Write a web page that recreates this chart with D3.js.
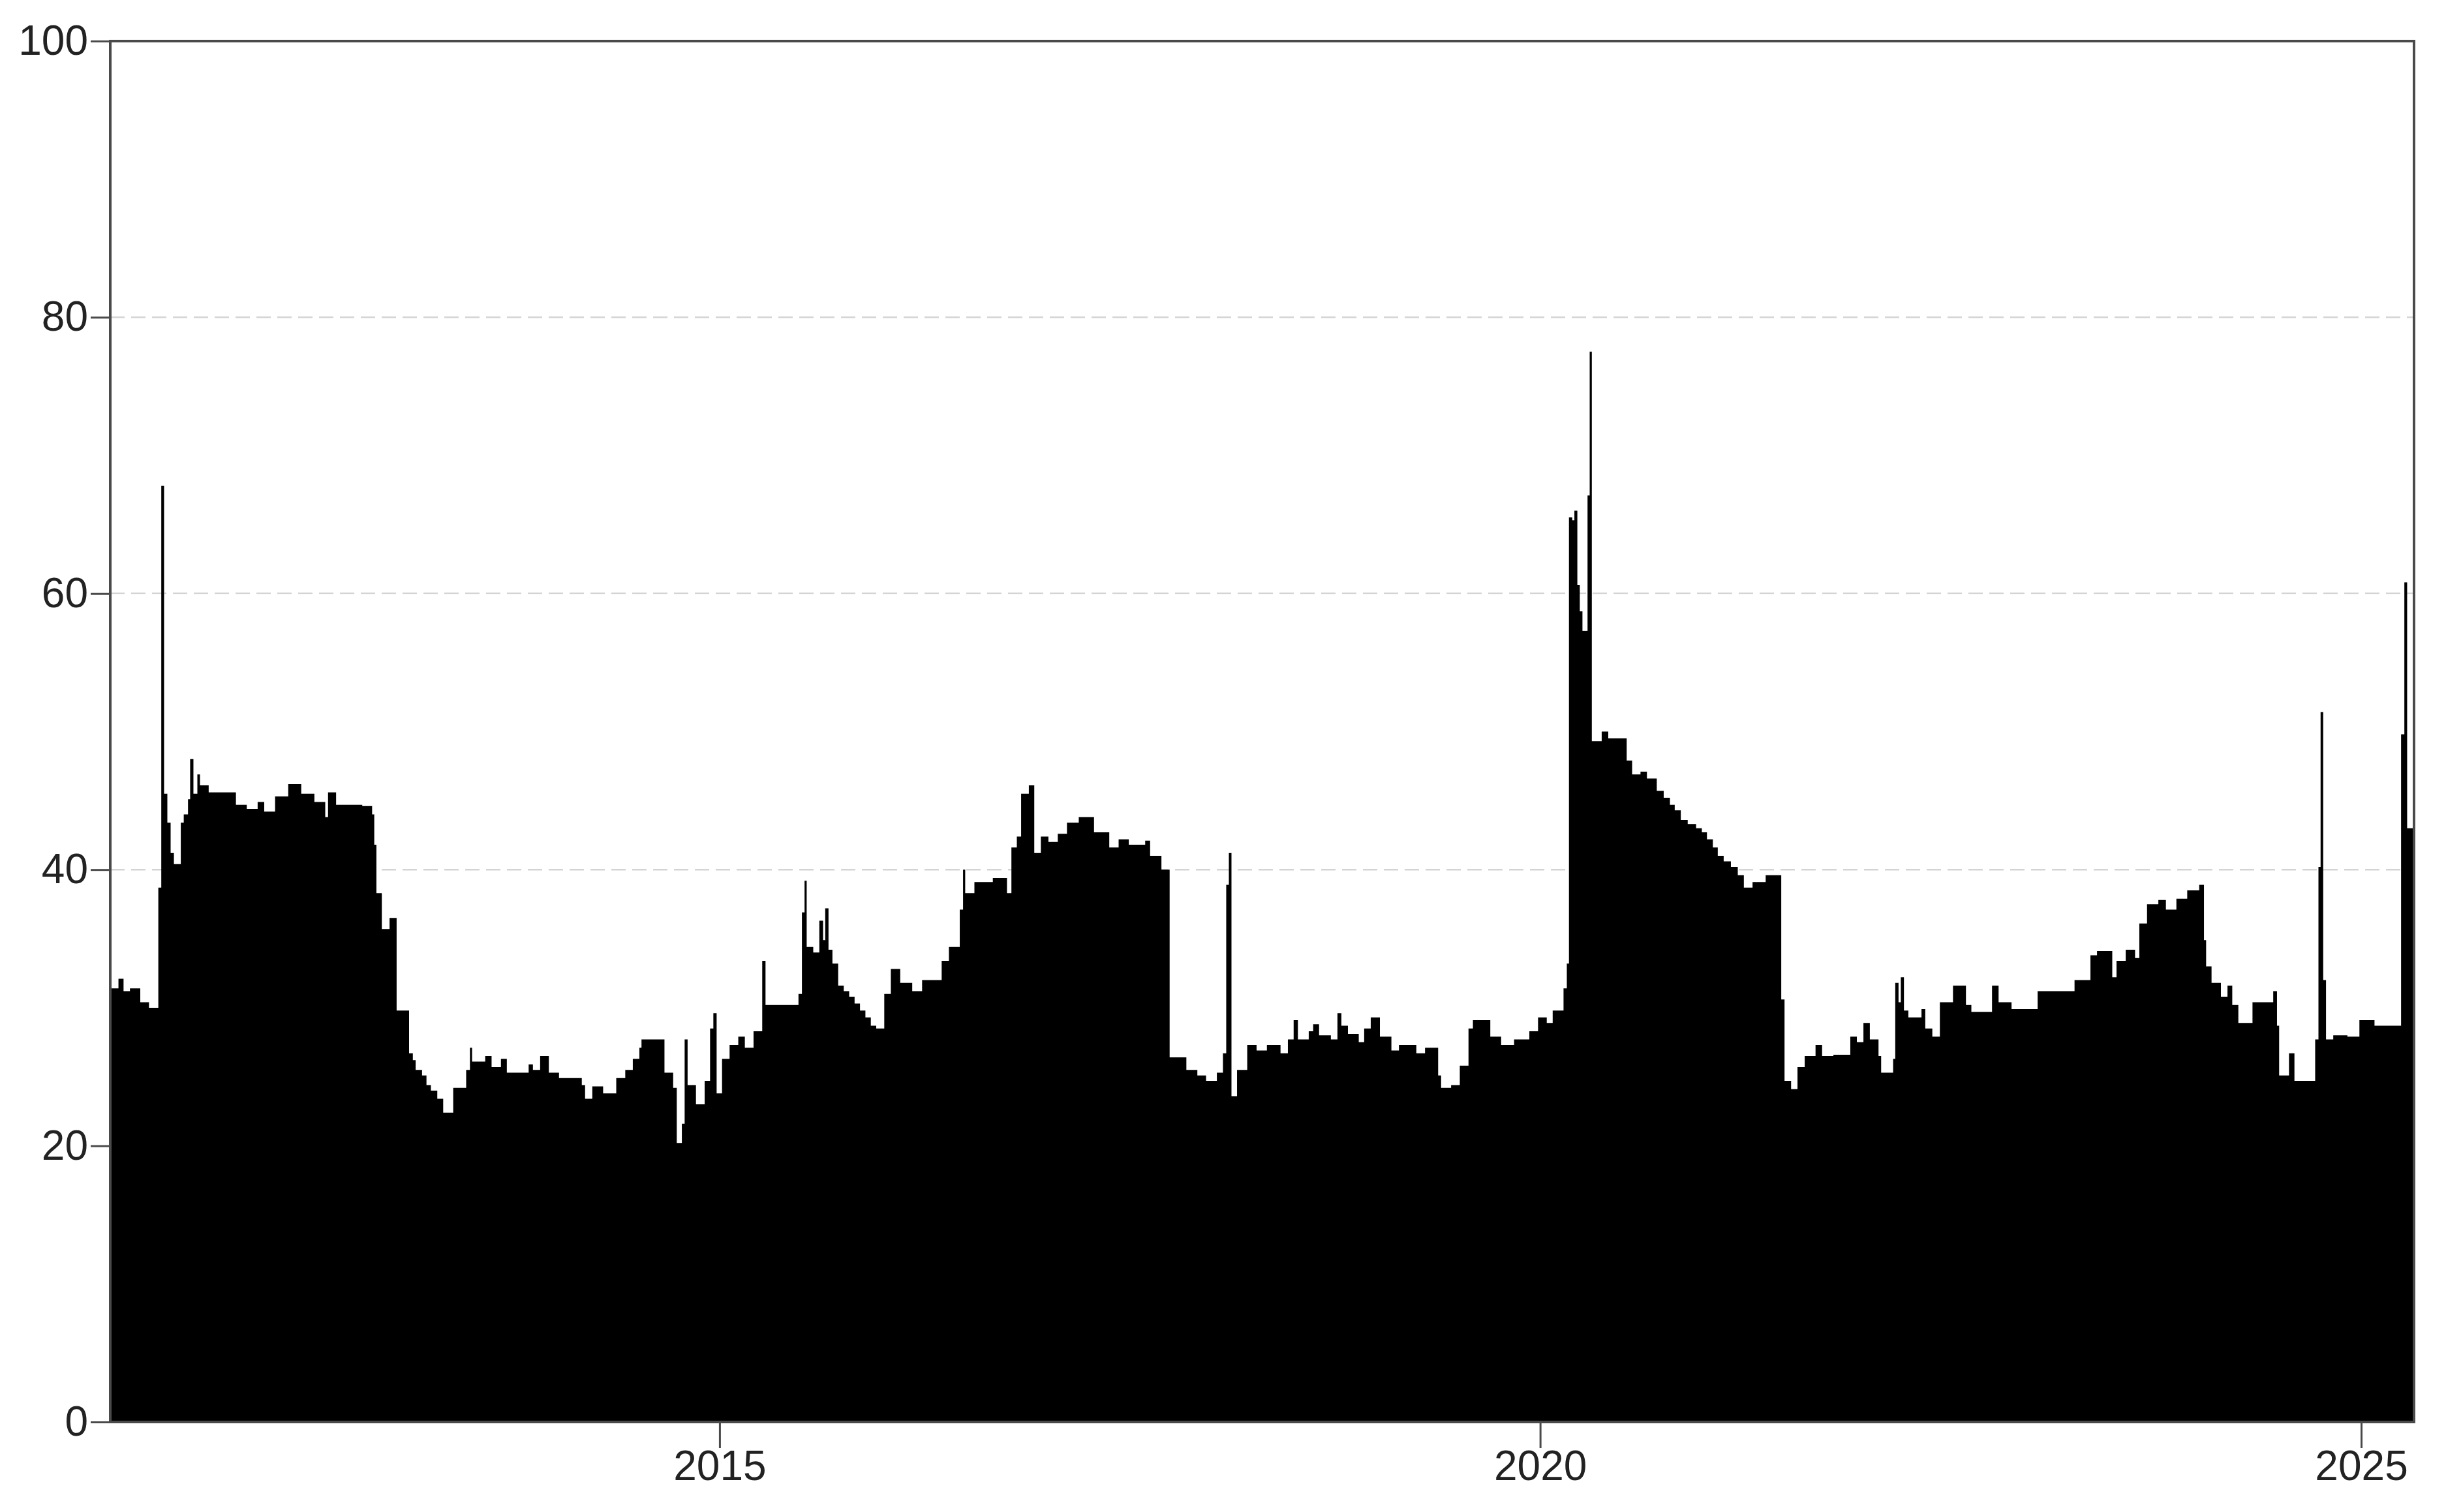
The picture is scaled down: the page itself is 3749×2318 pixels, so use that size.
<!DOCTYPE html>
<html>
<head>
<meta charset="utf-8">
<script src="https://cdn.jsdelivr.net/npm/d3@7"></script>
<style>
  html, body { margin: 0; padding: 0; background: #ffffff; }
  svg { display: block; }
  text { font-family: "Liberation Sans", Arial, sans-serif; }
</style>
</head>
<body>
<svg id="chart" width="3749" height="2318"></svg>
<script>
// ---- data (time as decimal year, value) ----
const times = [
  2011.290, 2011.338, 2011.369, 2011.408, 2011.471, 2011.524, 2011.581, 2011.599, 2011.616, 2011.636,
  2011.656, 2011.676, 2011.718, 2011.736, 2011.762, 2011.775, 2011.795, 2011.819, 2011.835, 2011.888,
  2012.054, 2012.120, 2012.186, 2012.226, 2012.292, 2012.372, 2012.451, 2012.531, 2012.597, 2012.614,
  2012.663, 2012.822, 2012.882, 2012.895, 2012.908, 2012.941, 2012.988, 2013.031, 2013.107, 2013.130,
  2013.147, 2013.186, 2013.213, 2013.240, 2013.279, 2013.315, 2013.376, 2013.455, 2013.478, 2013.491,
  2013.571, 2013.610, 2013.667, 2013.703, 2013.836, 2013.862, 2013.906, 2013.959, 2014.021, 2014.160,
  2014.180, 2014.224, 2014.290, 2014.370, 2014.425, 2014.471, 2014.511, 2014.524, 2014.664, 2014.717,
  2014.739, 2014.770, 2014.787, 2014.805, 2014.856, 2014.909, 2014.942, 2014.962, 2014.982, 2015.015,
  2015.061, 2015.114, 2015.154, 2015.207, 2015.260, 2015.280, 2015.481, 2015.502, 2015.518, 2015.531,
  2015.571, 2015.608, 2015.631, 2015.644, 2015.664, 2015.688, 2015.723, 2015.757, 2015.790, 2015.823,
  2015.856, 2015.889, 2015.922, 2015.955, 2016.004, 2016.044, 2016.101, 2016.174, 2016.234, 2016.353,
  2016.397, 2016.463, 2016.483, 2016.496, 2016.552, 2016.664, 2016.750, 2016.777, 2016.810, 2016.836,
  2016.883, 2016.916, 2016.956, 2017.002, 2017.059, 2017.115, 2017.187, 2017.280, 2017.373, 2017.430,
  2017.492, 2017.592, 2017.622, 2017.691, 2017.741, 2017.843, 2017.910, 2017.963, 2018.029, 2018.066,
  2018.086, 2018.102, 2018.118, 2018.152, 2018.214, 2018.271, 2018.334, 2018.417, 2018.462, 2018.497,
  2018.523, 2018.589, 2018.616, 2018.652, 2018.724, 2018.764, 2018.788, 2018.828, 2018.894, 2018.927,
  2018.967, 2019.023, 2019.093, 2019.139, 2019.245, 2019.298, 2019.378, 2019.396, 2019.457, 2019.510,
  2019.563, 2019.590, 2019.696, 2019.762, 2019.841, 2019.934, 2019.987, 2020.040, 2020.076, 2020.142,
  2020.162, 2020.175, 2020.195, 2020.208, 2020.226, 2020.241, 2020.257, 2020.288, 2020.301, 2020.314,
  2020.374, 2020.414, 2020.526, 2020.559, 2020.610, 2020.649, 2020.709, 2020.751, 2020.789, 2020.818,
  2020.855, 2020.897, 2020.948, 2020.983, 2021.014, 2021.050, 2021.080, 2021.116, 2021.160, 2021.202,
  2021.239, 2021.292, 2021.372, 2021.467, 2021.487, 2021.527, 2021.566, 2021.610, 2021.676, 2021.716,
  2021.785, 2021.888, 2021.928, 2021.968, 2022.007, 2022.060, 2022.076, 2022.149, 2022.162, 2022.182,
  2022.196, 2022.215, 2022.242, 2022.322, 2022.345, 2022.388, 2022.434, 2022.514, 2022.593, 2022.626,
  2022.752, 2022.792, 2022.871, 2023.030, 2023.255, 2023.352, 2023.392, 2023.485, 2023.511, 2023.567,
  2023.624, 2023.650, 2023.697, 2023.766, 2023.812, 2023.876, 2023.942, 2024.015, 2024.044, 2024.057,
  2024.090, 2024.147, 2024.187, 2024.216, 2024.253, 2024.339, 2024.465, 2024.488, 2024.501, 2024.561,
  2024.594, 2024.720, 2024.740, 2024.753, 2024.769, 2024.786, 2024.830, 2024.916, 2024.989, 2025.081,
  2025.243, 2025.263, 2025.280, 2025.322
];
const values = [
  31.4, 32.1, 31.2, 31.4, 30.4, 30.0, 38.7, 67.8, 45.5, 43.4,
  41.2, 40.4, 43.4, 44.0, 45.1, 48.0, 45.5, 46.9, 46.1, 45.6,
  44.7, 44.4, 44.9, 44.2, 45.3, 46.2, 45.5, 44.9, 43.8, 45.6,
  44.7, 44.6, 44.0, 41.8, 38.3, 35.7, 36.5, 29.8, 26.7, 26.2,
  25.5, 25.1, 24.4, 24.0, 23.4, 22.4, 24.2, 25.5, 27.1, 26.1,
  26.5, 25.7, 26.3, 25.3, 25.9, 25.5, 26.5, 25.3, 24.9, 24.4,
  23.4, 24.3, 23.8, 24.9, 25.5, 26.3, 27.1, 27.7, 25.3, 24.2,
  20.2, 21.6, 27.7, 24.4, 23.0, 24.7, 28.5, 29.6, 23.8, 26.3,
  27.3, 27.9, 27.1, 28.3, 33.4, 30.2, 31.0, 36.9, 39.2, 34.4,
  34.0, 36.3, 34.9, 37.2, 34.2, 33.2, 31.6, 31.2, 30.8, 30.3,
  29.8, 29.3, 28.7, 28.5, 31.0, 32.8, 31.8, 31.2, 32.0, 33.4,
  34.4, 37.1, 40.0, 38.3, 39.1, 39.4, 38.3, 41.6, 42.4, 45.5,
  46.1, 41.2, 42.4, 42.0, 42.6, 43.4, 43.8, 42.7, 41.6, 42.2,
  41.8, 42.1, 41.0, 40.0, 26.4, 25.5, 25.1, 24.7, 25.3, 26.7,
  38.9, 41.2, 23.6, 25.5, 27.3, 26.9, 27.3, 26.7, 27.7, 29.1,
  27.7, 28.3, 28.8, 28.0, 27.7, 29.6, 28.7, 28.1, 27.5, 28.5,
  29.3, 27.9, 26.9, 27.3, 26.7, 27.1, 25.1, 24.2, 24.4, 25.8,
  28.5, 29.1, 27.9, 27.3, 27.7, 28.3, 29.3, 28.9, 29.8, 31.4,
  33.2, 65.5, 65.3, 66.0, 60.6, 58.7, 57.3, 67.1, 77.5, 49.3,
  50.0, 49.5, 47.9, 46.9, 47.1, 46.6, 45.7, 45.2, 44.7, 44.3,
  43.6, 43.3, 43.0, 42.7, 42.2, 41.6, 41.0, 40.6, 40.2, 39.6,
  38.7, 39.1, 39.6, 30.6, 24.7, 24.1, 25.7, 26.5, 27.3, 26.5,
  26.6, 27.9, 27.5, 28.9, 27.7, 26.5, 25.3, 26.3, 31.8, 30.4,
  32.2, 29.8, 29.3, 29.9, 28.5, 27.9, 30.4, 31.6, 30.2, 29.7,
  31.6, 30.4, 29.9, 31.2, 32.0, 33.8, 34.1, 32.2, 33.4, 34.2,
  33.6, 36.1, 37.5, 37.8, 37.1, 37.9, 38.5, 38.9, 34.9, 33.0,
  31.8, 30.8, 31.6, 30.2, 28.9, 30.4, 31.2, 28.7, 25.1, 26.7,
  24.7, 27.7, 40.2, 51.4, 32.0, 27.7, 28.0, 27.9, 29.1, 28.7,
  49.8, 60.8, 43.0, 43.0
];
const yTicks = [0, 20, 40, 60, 80, 100];
const gridValues = [20, 40, 60, 80];
const xTickYears = [2015, 2020, 2025];
const domainStart = 2011.288, domainEnd = 2025.322;

// ---- helpers ----
function decYearToDate(y) {
  const Y = Math.floor(y);
  const s = Date.UTC(Y, 0, 1), e = Date.UTC(Y + 1, 0, 1);
  return new Date(s + (y - Y) * (e - s));
}
const n = Math.min(times.length, values.length);
const data = d3.range(n).map(i => ({ date: decYearToDate(times[i]), value: values[i] }));

const svg = d3.select("#chart");
const W = 3749, H = 2318;
const margin = { left: 169, right: W - 3700, top: 63, bottom: H - 2180 };

const x = d3.scaleUtc()
  .domain([decYearToDate(domainStart), decYearToDate(domainEnd)])
  .range([margin.left, W - margin.right]);
const y = d3.scaleLinear().domain([0, 100]).range([H - margin.bottom, margin.top]);

// gridlines
svg.append("g").selectAll("line").data(gridValues).join("line")
  .attr("x1", margin.left).attr("x2", W - margin.right)
  .attr("y1", d => y(d)).attr("y2", d => y(d))
  .attr("stroke", "#d4d4d4").attr("stroke-width", 2.5)
  .attr("stroke-dasharray", "22,10");

// clip
svg.append("clipPath").attr("id", "clip").append("rect")
  .attr("x", margin.left).attr("y", margin.top)
  .attr("width", W - margin.left - margin.right)
  .attr("height", H - margin.top - margin.bottom);

const area = d3.area()
  .curve(d3.curveStepAfter)
  .x(d => x(d.date))
  .y0(y(0))
  .y1(d => y(d.value));

svg.append("path")
  .datum(data)
  .attr("clip-path", "url(#clip)")
  .attr("fill", "#000000")
  .attr("d", area);

// axes
const axisColor = "#4a4a4a";
const yAxis = d3.axisLeft(y).tickValues(yTicks).tickSize(30).tickPadding(4).tickFormat(d3.format("d"));
const gy = svg.append("g").attr("transform", `translate(${margin.left},0)`).call(yAxis);
gy.select(".domain").remove();
gy.selectAll(".tick line").attr("stroke", axisColor).attr("stroke-width", 3);
gy.selectAll(".tick text").attr("font-size", 64).attr("fill", "#222")
  .attr("font-family", "'Liberation Sans', Arial, sans-serif");

const xAxis = d3.axisBottom(x)
  .tickValues(xTickYears.map(yv => decYearToDate(yv)))
  .tickSize(40).tickPadding(4)
  .tickFormat(d3.utcFormat("%Y"));
const gx = svg.append("g").attr("transform", `translate(0,${H - margin.bottom})`).call(xAxis);
gx.select(".domain").remove();
gx.selectAll(".tick line").attr("stroke", axisColor).attr("stroke-width", 3);
gx.selectAll(".tick text").attr("font-size", 64).attr("fill", "#222")
  .attr("font-family", "'Liberation Sans', Arial, sans-serif");

// frame
svg.append("rect")
  .attr("x", margin.left).attr("y", margin.top)
  .attr("width", W - margin.left - margin.right)
  .attr("height", H - margin.top - margin.bottom)
  .attr("fill", "none").attr("stroke", axisColor).attr("stroke-width", 4);
</script>
</body>
</html>
